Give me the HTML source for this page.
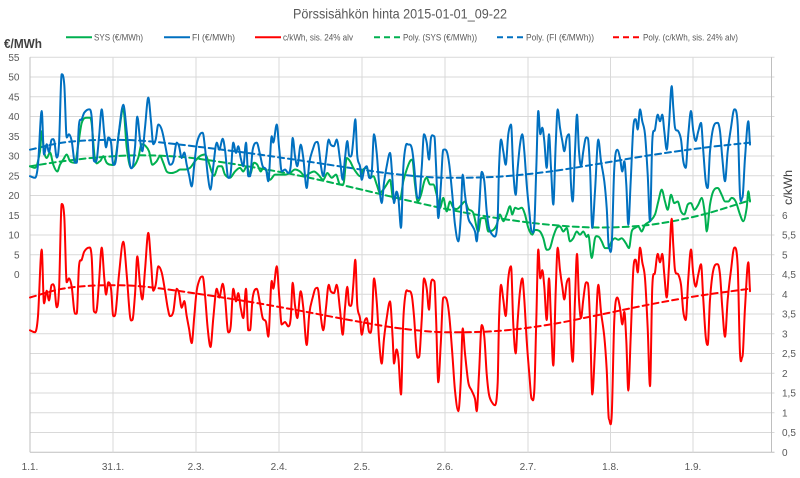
<!DOCTYPE html>
<html><head><meta charset="utf-8"><style>
html,body{margin:0;padding:0;background:#fff;}
svg{display:block;font-family:"Liberation Sans",sans-serif;}
</style></head><body>
<svg id="s" width="800" height="478" viewBox="0 0 800 478" xmlns="http://www.w3.org/2000/svg">
<rect width="800" height="478" fill="#fff"/>
<g id="grid"></g>
<g id="series" fill="none" stroke-linejoin="round" stroke-linecap="round"></g>
<text x="400" y="18.5" font-size="14" fill="#595959" text-anchor="middle" textLength="214" lengthAdjust="spacingAndGlyphs">Pörssisähkön hinta 2015-01-01_09-22</text>
<g font-size="9" fill="#595959">
<line x1="66" y1="37.3" x2="92" y2="37.3" stroke="#00B050" stroke-width="2"/>
<text x="94" y="40.5" textLength="49" lengthAdjust="spacingAndGlyphs">SYS (€/MWh)</text>
<line x1="164" y1="37.3" x2="190" y2="37.3" stroke="#0070C0" stroke-width="2"/>
<text x="192" y="40.5" textLength="43" lengthAdjust="spacingAndGlyphs">FI (€/MWh)</text>
<line x1="255" y1="37.3" x2="281" y2="37.3" stroke="#FF0000" stroke-width="2"/>
<text x="283" y="40.5" textLength="70" lengthAdjust="spacingAndGlyphs">c/kWh, sis. 24% alv</text>
<line x1="374" y1="37.3" x2="400" y2="37.3" stroke="#00B050" stroke-width="2" stroke-dasharray="6,4"/>
<text x="403" y="40.5" textLength="74" lengthAdjust="spacingAndGlyphs">Poly. (SYS (€/MWh))</text>
<line x1="497" y1="37.3" x2="524" y2="37.3" stroke="#0070C0" stroke-width="2" stroke-dasharray="6,4"/>
<text x="526" y="40.5" textLength="68" lengthAdjust="spacingAndGlyphs">Poly. (FI (€/MWh))</text>
<line x1="613" y1="37.3" x2="639" y2="37.3" stroke="#FF0000" stroke-width="2" stroke-dasharray="6,4"/>
<text x="643" y="40.5" textLength="95" lengthAdjust="spacingAndGlyphs">Poly. (c/kWh, sis. 24% alv)</text>
</g>
<text x="4" y="48" font-size="12.5" font-weight="bold" fill="#404040" textLength="38" lengthAdjust="spacingAndGlyphs">€/MWh</text>
<text transform="translate(792,187.5) rotate(-90)" font-size="12" fill="#404040" text-anchor="middle" textLength="35" lengthAdjust="spacingAndGlyphs">c/kWh</text>
<g id="labels" font-size="10" fill="#595959"></g>
</svg>
<script>
(function(){
var NS="http://www.w3.org/2000/svg";
var YT=57.3, STEP=19.75, YB=YT+20*STEP, X0=30, X1=771.5;
function el(parent,tag,attrs,txt){var e=document.createElementNS(NS,tag);for(var k in attrs)e.setAttribute(k,attrs[k]);if(txt!==undefined)e.textContent=txt;parent.appendChild(e);return e;}
var grid=document.getElementById('grid'), labels=document.getElementById('labels'), series=document.getElementById('series');
for(var i=0;i<=20;i++){var y=YT+i*STEP;el(grid,'line',{x1:X0,y1:y,x2:X1+3,y2:y,stroke:(i==20?'#bfbfbf':'#d9d9d9'),'stroke-width':1});}
var vx=[30,113,196,279,362,445,528,610.5,693];
var vl=['1.1.','31.1.','2.3.','2.4.','2.5.','2.6.','2.7.','1.8.','1.9.'];
for(var j=0;j<vx.length;j++){el(grid,'line',{x1:vx[j],y1:YT,x2:vx[j],y2:YB,stroke:(j==0?'#bfbfbf':'#d9d9d9'),'stroke-width':1});
 el(labels,'text',{x:vx[j],y:470,'text-anchor':'middle'},vl[j]);}
el(grid,'line',{x1:X1,y1:YT,x2:X1,y2:YB,stroke:'#bfbfbf','stroke-width':1});
for(var i=0;i<=11;i++){var v=55-5*i;el(labels,'text',{x:19.5,y:YT+i*STEP+3.5,'text-anchor':'end'},String(v));}
for(var i=0;i<=12;i++){var c=i*0.5;var s=(c%1==0)?String(c):(Math.floor(c)+',5');el(labels,'text',{x:782,y:YB-i*STEP+3.5},s);}
function yL(v){return YT+11*STEP - v*(STEP/5);}
function yR(c){return YB - c*(STEP/0.5);}
function smooth(pts){
 var n=pts.length, sl=[];
 for(var i=0;i<n;i++){
  var p0=pts[i-1]||pts[i], p2=pts[i+1]||pts[i], p1=pts[i];
  var s=(p2[1]-p0[1])/((p2[0]-p0[0])||1);
  if(i>0&&i<n-1&&(p1[1]-p0[1])*(p2[1]-p1[1])<=0) s=0;
  sl.push(s);
 }
 var d='M'+pts[0][0]+','+pts[0][1].toFixed(1);
 for(var i=0;i<n-1;i++){
  var a=pts[i],b=pts[i+1],h=(b[0]-a[0])/3;
  d+=' C'+(a[0]+h).toFixed(1)+','+(a[1]+sl[i]*h).toFixed(1)+' '+(b[0]-h).toFixed(1)+','+(b[1]-sl[i+1]*h).toFixed(1)+' '+b[0]+','+b[1].toFixed(1);
 }
 return d;
}
var FI=[[30,24.9],[35,24.5],[38,27.8],[41.7,41.4],[44,30.4],[46.7,33],[49,31],[51.7,34.2],[54.3,33.8],[56.7,29.6],[59,33],[61.7,50.7],[64.3,48],[66.7,34.7],[69,35.5],[71.7,33.8],[75,28.3],[76.7,28.3],[79,38],[81.7,39.3],[84.3,41],[89,41.8],[91.7,39.8],[94,28.7],[96.7,29.1],[99,34.7],[101.7,41.8],[104.3,35.5],[106,32.2],[108.3,34.7],[111,33.4],[113.3,27.8],[115.7,28.7],[119,36.3],[123.3,43],[126.7,36.3],[130,27.8],[132.3,27],[135,32.2],[137.3,40],[140,34.2],[142.3,31.2],[145,37.2],[148.3,44.8],[151,38.8],[153.3,33],[155.7,34.2],[158.3,38],[161.7,36.7],[165,33],[167.7,29.5],[170,27.8],[173.3,28.7],[176.7,33.4],[179,32.5],[181.7,29.5],[184.3,30.9],[186.7,27.8],[189,25.3],[191.7,22.3],[194.3,27.8],[196.7,33],[200,35.5],[202.7,35.9],[205,32.1],[207.7,25.3],[210.5,21.5],[213.3,27.4],[216.7,33.4],[219.3,31.6],[222.7,34.4],[225,31.6],[228.3,24.5],[230.7,25.7],[233.3,33.4],[236,30.8],[238.3,32.5],[240.7,29.5],[243.3,27.4],[246,33.4],[248.3,24.9],[250,24.9],[252.7,31.6],[256.7,33.4],[260,30.4],[262.7,27.4],[266,26.6],[268.3,23.6],[271.7,35],[273.3,33.4],[276.7,38],[279.3,31.6],[281.7,26.1],[285,26.6],[288.3,25.7],[290.7,27.4],[292.7,34.6],[295,30],[297.3,27.4],[300.7,32.9],[303.3,29.5],[306.7,21.9],[309.3,28.3],[312.7,31.6],[316,33.5],[318.3,33],[321,27.4],[323.3,24.9],[326,29.5],[328.7,34.2],[330.7,32.9],[334,32.5],[336.7,34.2],[340,29.1],[342.7,24],[345,29.5],[347.3,33.8],[349.3,30],[351.7,30.4],[353.3,34.2],[355.3,39.3],[357.3,30],[360,27.4],[361.7,24],[364.3,26.6],[366.7,27.4],[369.3,24.5],[371.7,25.7],[374,35.5],[376.7,30.8],[379.3,22.3],[381.7,18.1],[384,23.2],[386.7,27.4],[390,30.8],[392.7,23.2],[394,18.1],[396.5,21],[398.5,19],[401,11.8],[403.3,27],[405.7,32.5],[408.3,32.9],[411.7,32.1],[414,27.8],[416.7,20.2],[419,19.4],[421.7,27],[424,35.5],[426.7,33.4],[429,29.1],[431,34.6],[434.3,35],[436,27.8],[438.3,14.3],[440.7,21.9],[443.3,31.6],[446.7,31.2],[449.3,27.8],[452.3,20.2],[455,12.6],[458.3,8.4],[460.7,14.3],[462.7,25.3],[465,20.2],[468.3,14.3],[471.7,12.6],[475,10.9],[476.7,8.4],[479,16],[481.7,26],[484.3,23.6],[486.7,16],[489,11.8],[492.3,10.1],[495,9.6],[497.7,14.3],[499,27],[501,34.2],[503.3,31.2],[505.7,27.8],[508.3,35.5],[511,38],[513.3,26.1],[515.7,20.2],[517.7,27],[520,32.9],[522.3,35.5],[524.3,31.2],[526.7,22.8],[529.3,16],[531.7,10.9],[534.3,12.6],[536.3,27],[538.3,41.4],[540.3,35.5],[542.3,37.2],[544.3,33.8],[546.7,27],[549,35.5],[551,27],[553.3,17.7],[555.7,32.9],[557.7,41.8],[560,37.2],[562.3,33.8],[564.3,31.2],[566.7,34.6],[569,35.5],[571,22.8],[572.7,18.5],[575,31.2],[577,40.5],[579,31.2],[581,27.4],[583.3,31.2],[585.5,34.4],[587.7,34.6],[590,27],[592.3,11.8],[595,21.1],[598.3,34.2],[601,28.7],[604.3,23.6],[606.7,16.9],[609,6.7],[611.7,7.5],[614.3,27],[617.3,31.6],[620,29.5],[622.3,26.1],[624.3,28.7],[626.3,22.8],[628.3,12.6],[630.7,23.6],[633.3,37.2],[635.7,39.3],[637.7,36.7],[640,41.8],[642.3,38.8],[645,35.5],[647.7,25.3],[650,13.5],[652.3,33.8],[655,36.7],[657.7,40.5],[660,38.8],[662.3,40.5],[664.3,36.3],[666.7,31.6],[669,38],[671.7,47.7],[673.3,42.2],[675,37.2],[678.3,36.3],[681,34.2],[683.3,28.7],[685.7,27],[688.3,35.5],[691,41.4],[693.3,36.3],[695.7,33.8],[698.3,36.3],[701,38.4],[703.3,31.2],[705.7,23.6],[707.7,21.9],[710,31.2],[713.3,37.2],[717.7,38.4],[720,36.3],[722.3,29.5],[725,23.6],[727.7,31.2],[731,37.2],[734.3,41.8],[737.7,38],[740,20.2],[742.3,19.4],[745,29.5],[748.3,38.8],[750,32.9]];
var SYS=[[30,27.4],[35,27],[40,31.2],[41.7,36.3],[44,31.2],[46.7,29.5],[50,30.9],[53.3,27.8],[57.3,26.1],[60,27.8],[63.3,29.1],[66.7,30.4],[70,28.7],[75,28.3],[78.3,33],[81.7,38.4],[86.7,39.7],[90,39.7],[91.7,38.2],[95,29.1],[100,28.7],[103.3,30],[106.7,28.3],[111,27.8],[115,28.7],[119,36],[123.3,42],[126.7,32.2],[131,27],[135,27.8],[138.3,29.6],[141.7,33],[145,32.7],[149,31.2],[152.3,27.8],[156.7,28.7],[160,30],[163.3,28.3],[166.7,26.1],[171.7,25.7],[176.7,26.1],[180,26.6],[185,26.6],[190,27],[195,28.7],[200,30],[205,30.4],[208.3,28.7],[211.7,26],[214,25],[218.3,27.4],[221.7,27.4],[225,25.3],[230,24.5],[235,26.1],[240,27],[243.3,26.1],[246.7,27.4],[250,25.3],[254,28.3],[257.3,27.8],[260.7,26.1],[263.3,27],[266.7,26.1],[270,24],[275,25.3],[280,25.3],[285,25.3],[290,25.7],[295,26.6],[300,26.1],[305,24.9],[310,25.7],[314,26.1],[318.3,25.3],[323.3,24],[327.3,25.7],[331.7,24.5],[336,25.3],[340,22.8],[343.3,22.8],[346.7,29.5],[350,28.7],[353.3,27],[356.7,25.7],[360,24.9],[363.3,26.6],[366.7,27],[370,24.5],[373.3,24.9],[376.7,22.8],[380,20.7],[383.3,21.5],[386.7,22.8],[390,24],[393.3,19],[396.7,20.3],[400,19],[403.3,23.6],[406.7,26.6],[410,28.7],[412.3,29.1],[415,22.8],[417.7,18.5],[421,20.2],[424.3,23.6],[426.7,24.5],[430,22.8],[433.3,22.8],[436.7,20.2],[440,16.9],[443.3,19.4],[446.7,16],[450,18.5],[453.3,16.9],[456.7,16.6],[461.7,17.7],[465,18.5],[468.3,16.6],[473.3,15.6],[478.3,10.9],[481,14.3],[485,14.3],[488.3,10.9],[493.3,11.3],[496.7,12.6],[500,15.2],[503.3,13.5],[506.7,15.2],[510,17.3],[512.3,15.2],[515,16.9],[518.3,16.6],[521.7,16.9],[525,15.2],[528.3,11.8],[532.3,10.1],[535,11.3],[540,10.9],[543.3,9.2],[546.7,6.3],[550,6.7],[553.3,9.6],[556.7,11.8],[560,12.2],[563.3,10.9],[566.7,11.8],[570,8.4],[573.3,9.2],[576.7,10.9],[580,10.1],[583.3,10.9],[586.7,9.5],[588.3,10.1],[591.7,4.2],[595,9.2],[598.3,9.6],[601.7,8.4],[605,6.7],[608.3,6.7],[611.7,8.4],[615,9.2],[618.3,8.8],[621.7,9.2],[625.7,8],[629,6.7],[631.7,10.9],[635,11.8],[638.3,12.2],[641.7,10.9],[645,12.6],[650,13.5],[655,15.2],[658.3,18.5],[661.7,21.5],[665,18.5],[667.7,16.4],[671,20.2],[674.3,18.1],[677.7,18.5],[681,16],[684.3,15.2],[687.7,17.7],[691,18.1],[694.3,16.4],[698.3,17.7],[701.7,19.4],[705,15.2],[706.7,10.9],[710,17.7],[713.3,21.1],[717.7,21.9],[721.7,20.2],[725,18.5],[728.3,18.5],[731.7,19.4],[735.7,18.5],[740,15.2],[743.3,13.5],[746.7,16.9],[748.3,21.1],[750,18.5]];
var FIP=[[30,31.6],[60,33.3],[90,34.0],[120,34.1],[150,33.7],[200,32.3],[250,30.7],[300,28.9],[350,27.0],[400,25.3],[450,24.5],[500,24.8],[550,26.1],[600,28.1],[650,30.2],[700,32.0],[750,33.4]];
var SYSP=[[30,27.4],[60,28.6],[100,29.7],[140,30.2],[180,29.8],[210,28.9],[250,27.3],[300,25.0],[350,22.2],[400,19.2],[450,16.4],[500,14.2],[550,12.6],[600,11.9],[650,12.6],[700,15.0],[750,18.8]];
function mapL(a){return a.map(function(p){return [p[0],yL(p[1])];});}
function mapR(a){return a.map(function(p){return [p[0],yR(p[1]*0.124)];});}
function path(d,col,dash){var a={d:d,stroke:col,'stroke-width':2};if(dash)a['stroke-dasharray']='6,4';el(series,'path',a);}
path(smooth(mapL(SYSP)),'#00B050',true);
path(smooth(mapL(FIP)),'#0070C0',true);
path(smooth(mapR(FIP)),'#FF0000',true);
path(smooth(mapL(SYS)),'#00B050');
path(smooth(mapL(FI)),'#0070C0');
path(smooth(mapR(FI)),'#FF0000');
})();
</script>
</body></html>
